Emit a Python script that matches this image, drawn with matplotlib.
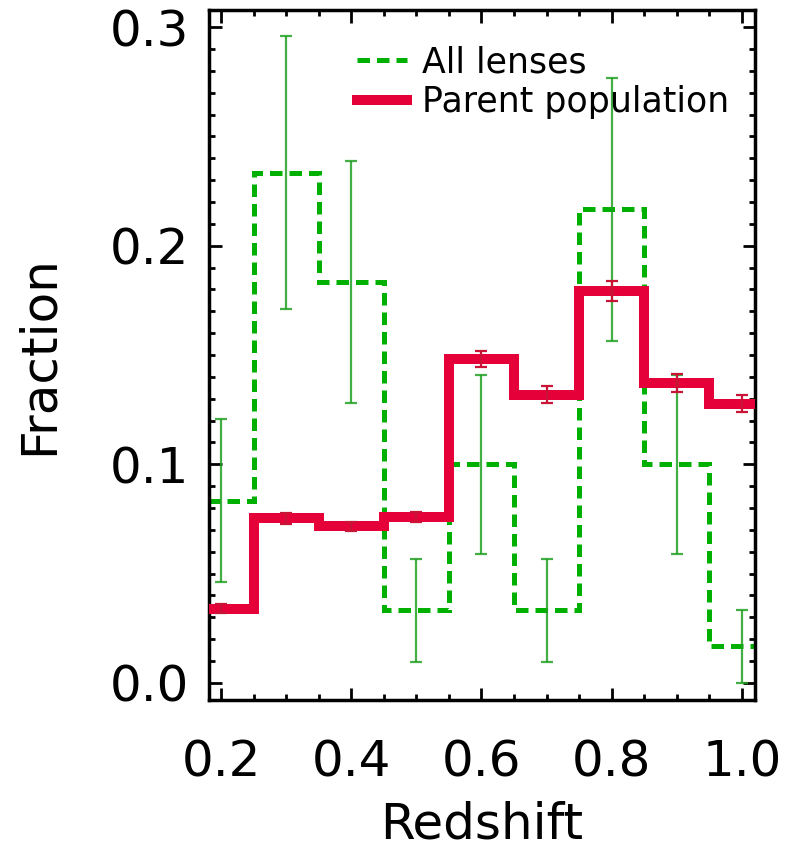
import matplotlib
matplotlib.use("Agg")
import matplotlib.pyplot as plt
import numpy as np

# redshift bin centres (bin width 0.1)
z = [0.2, 0.3, 0.4, 0.5, 0.6, 0.7, 0.8, 0.9, 1.0]

# all lenses
lens_frac = [0.0833, 0.2333, 0.1833, 0.0333, 0.1000, 0.0333, 0.2167, 0.1000, 0.0167]
lens_err = [0.0373, 0.0624, 0.0553, 0.0236, 0.0408, 0.0236, 0.0601, 0.0408, 0.0167]

# parent population
parent_frac = [0.0339, 0.0753, 0.0716, 0.0759, 0.1481, 0.1318, 0.1794, 0.1371, 0.1278]
parent_err = [0.0020, 0.0025, 0.0020, 0.0025, 0.0038, 0.0038, 0.0045, 0.0040, 0.0038]

GREEN = "#00b000"
GREEN_ERR = "#22a022"
RED = "#e6003a"
RED_ERR = "#c81436"

plt.rcParams["font.family"] = "DejaVu Sans"

fig = plt.figure(figsize=(7.94, 8.58), dpi=100)
ax = fig.add_axes([209/794, 1 - 700/858, 546/794, 690/858])

zc = np.array(z)
edges = np.append(zc - 0.05, zc[-1] + 0.05)

ax.stairs(lens_frac, edges, baseline=None, color=GREEN, lw=3.6,
          linestyle=(0, (2.5, 1.4)), label="All lenses", zorder=2)
ax.stairs(parent_frac, edges, baseline=None, color=RED, lw=7.2,
          joinstyle="miter", label="Parent population", zorder=3)
ax.errorbar(z, lens_frac, yerr=lens_err, fmt="none", ecolor=GREEN_ERR,
            elinewidth=1.6, capsize=4.5, capthick=1.6, alpha=0.85, zorder=4)
ax.errorbar(z, parent_frac, yerr=parent_err, fmt="none", ecolor=RED_ERR,
            elinewidth=1.6, capsize=4.5, capthick=1.6, zorder=5)

ax.set_xlim(0.1816, 1.02)
ax.set_ylim(-0.0078, 0.3078)
ax.set_xticks([0.2, 0.4, 0.6, 0.8, 1.0])
ax.set_xticks(np.arange(0.2, 1.01, 0.05), minor=True)
ax.set_yticks([0.0, 0.1, 0.2, 0.3])
ax.set_yticks(np.arange(0.0, 0.301, 0.01), minor=True)
ax.xaxis.set_major_formatter("{x:.1f}")
ax.yaxis.set_major_formatter("{x:.1f}")

ax.tick_params(which="both", direction="in", top=True, right=True,
               width=2.0, labelsize=36)
ax.tick_params(which="major", length=9)
ax.tick_params(which="minor", length=4.5)
ax.tick_params(axis="x", pad=28)
ax.tick_params(axis="y", pad=14)
for s in ax.spines.values():
    s.set_linewidth(2.5)

ax.set_xlabel("Redshift", fontsize=36, labelpad=10)
ax.set_ylabel("Fraction", fontsize=36, labelpad=34)

leg = ax.legend(loc="upper left", bbox_to_anchor=(0.245, 0.969), frameon=False,
                fontsize=25, handlelength=1.44, handletextpad=0.43,
                labelspacing=0.16, borderaxespad=0)

fig.savefig("out.png", dpi=100)
